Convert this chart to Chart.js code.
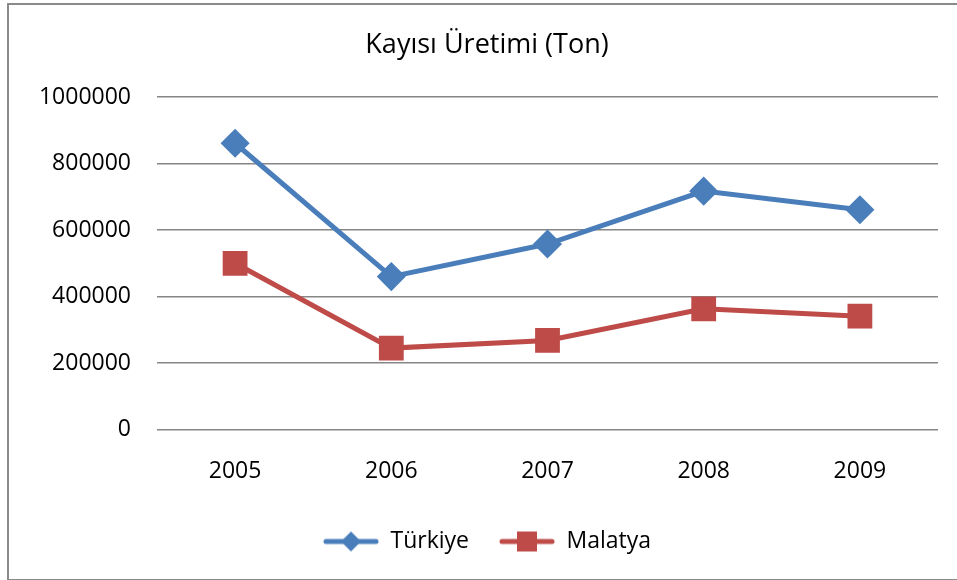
<!DOCTYPE html>
<html>
<head>
<meta charset="utf-8">
<script src="https://cdn.jsdelivr.net/npm/chart.js@4"></script>
<style>
  html, body { margin: 0; padding: 0; background: #fff; overflow: hidden; }
  #frame {
    position: absolute; left: 7px; top: 3px; width: 1000px; height: 574px;
    border: 2px solid #8a8a8a; border-right: none;
  }
  #wrap { position: absolute; left: 0; top: 0; width: 957px; height: 580px; }
</style>
</head>
<body>
<div id="frame"></div>
<div id="wrap"><canvas id="myChart"></canvas></div>
<script>
const years = ['2005', '2006', '2007', '2008', '2009'];
const turkiye = [861000, 460000, 558000, 717000, 661000];
const malatya = [500000, 245000, 268000, 363000, 341000];
const yTicks = [0, 200000, 400000, 600000, 800000, 1000000];

const blue = '#4A7EBB';
const red = '#BE4B48';
const fontName = "'Open Sans', 'Noto Sans', sans-serif";

// legend sample: line with marker in the middle
function legendIcon(color, shape) {
  const c = document.createElement('canvas');
  c.width = 56;
  c.height = 22;
  const g = c.getContext('2d');
  g.strokeStyle = color;
  g.lineWidth = 5;
  g.lineCap = 'round';
  g.beginPath();
  g.moveTo(3, 11);
  g.lineTo(53, 11);
  g.stroke();
  g.fillStyle = color;
  g.beginPath();
  if (shape === 'diamond') {
    g.moveTo(28, 1); g.lineTo(38, 11); g.lineTo(28, 21); g.lineTo(18, 11);
  } else {
    g.rect(18, 1, 20, 20);
  }
  g.fill();
  return c;
}
const icons = [legendIcon(blue, 'diamond'), legendIcon(red, 'square')];

const ctx = document.getElementById('myChart');
const myChart = new Chart(ctx, {
  type: 'line',
  data: {
    labels: years,
    datasets: [{
      label: 'Türkiye',
      data: turkiye,
      borderColor: blue,
      backgroundColor: blue,
      borderWidth: 5,
      pointStyle: 'rectRot',
      pointRadius: 11,
      pointHoverRadius: 11,
      tension: 0
    }, {
      label: 'Malatya',
      data: malatya,
      borderColor: red,
      backgroundColor: red,
      borderWidth: 5,
      pointStyle: 'rect',
      pointRadius: 14,
      pointHoverRadius: 14,
      tension: 0
    }]
  },
  options: {
    responsive: true,
    maintainAspectRatio: false,
    animation: false,
    layout: { padding: { top: 4, left: 35, right: 18, bottom: 17 } },
    scales: {
      x: {
        offset: true,
        afterFit: axis => { axis.height = 70.4; },
        grid: { display: false, drawTicks: false },
        border: { display: false },
        ticks: { color: '#000', padding: 28, font: { family: fontName, size: 23 } }
      },
      y: {
        min: 0,
        max: 1000000,
        afterBuildTicks: axis => { axis.ticks = yTicks.map(v => ({ value: v })); },
        afterFit: axis => { axis.width = 122; },
        grid: { color: '#868686', lineWidth: 1.5, drawTicks: false },
        border: { display: false },
        ticks: {
          color: '#000',
          padding: 26,
          font: { family: fontName, size: 23 },
          callback: v => String(v)
        }
      }
    },
    plugins: {
      title: {
        display: true,
        text: 'Kayısı Üretimi (Ton)',
        color: '#000',
        font: { family: fontName, size: 27, weight: 'normal' },
        padding: { top: 25, bottom: 35.6 }
      },
      legend: {
        position: 'bottom',
        labels: {
          color: '#000',
          font: { family: fontName, size: 23 },
          usePointStyle: true,
          pointStyleWidth: 56,
          padding: 30,
          generateLabels: chart => chart.data.datasets.map((ds, i) => ({
            text: ds.label,
            pointStyle: icons[i],
            fillStyle: ds.borderColor,
            strokeStyle: ds.borderColor,
            lineWidth: 0,
            fontColor: '#000',
            datasetIndex: i
          }))
        }
      },
      tooltip: { enabled: false }
    }
  }
});
</script>
</body>
</html>
